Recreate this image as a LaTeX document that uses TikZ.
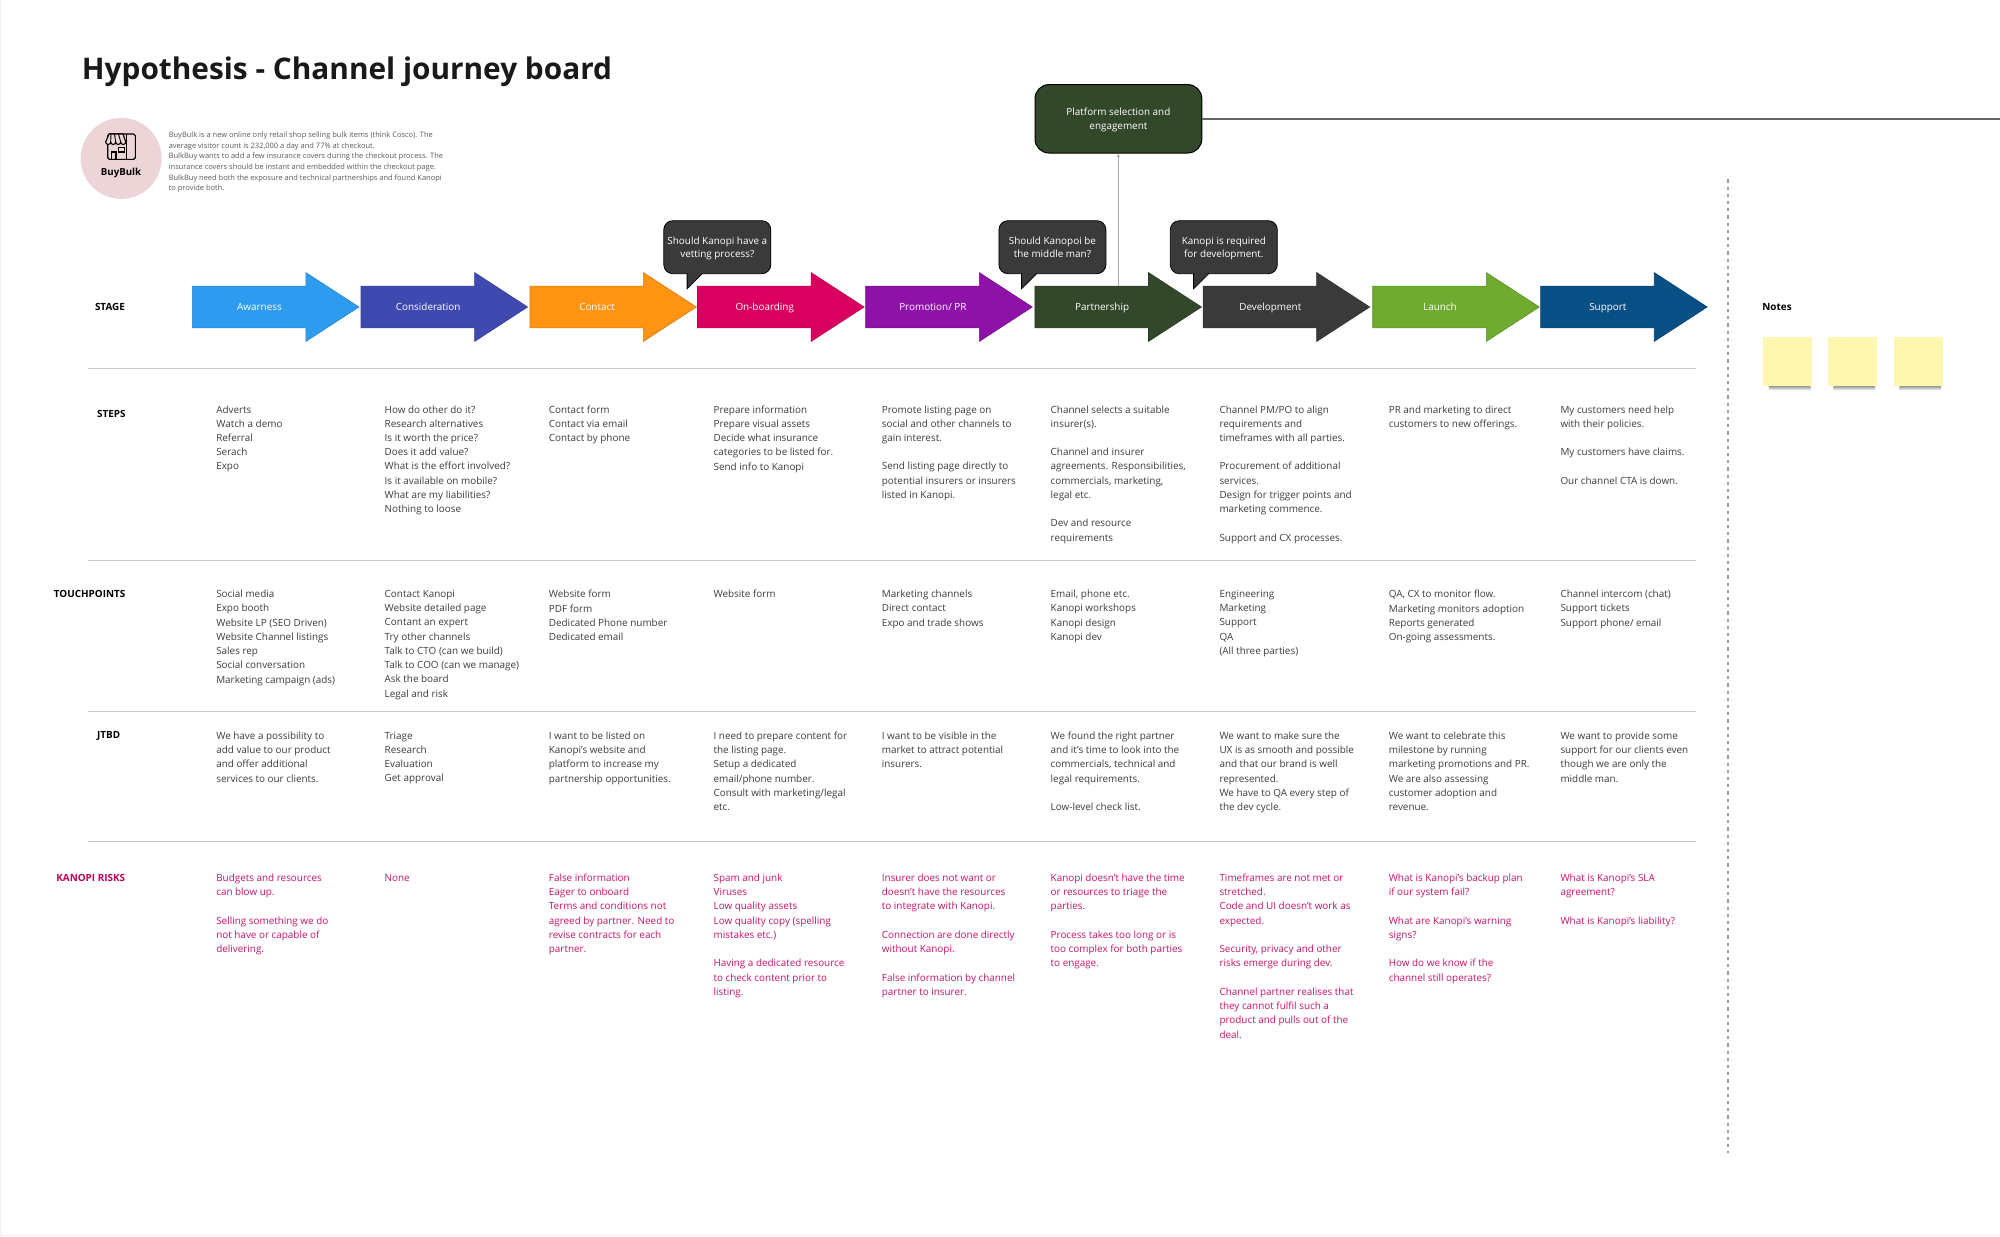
\documentclass[tikz,border=0pt]{standalone}
\usepackage{fontspec}
\setmainfont{Open Sans}
\usetikzlibrary{arrows.meta,calc,positioning,shapes.arrows}
\definecolor{awarness}{HTML}{2D9CF0}
\definecolor{consideration}{HTML}{3F4AB0}
\definecolor{contact}{HTML}{FF9312}
\definecolor{onboarding}{HTML}{D9005F}
\definecolor{promotion}{HTML}{8E11A8}
\definecolor{partnership}{HTML}{33482A}
\definecolor{development}{HTML}{3A3A3A}
\definecolor{launch}{HTML}{6EAB2F}
\definecolor{support}{HTML}{084F85}
\definecolor{risk}{HTML}{C41468}
\definecolor{risklabel}{HTML}{BF0055}
\definecolor{body}{HTML}{3C3C3C}
\definecolor{stickyfill}{HTML}{FDF7B0}
\definecolor{logofill}{HTML}{EDD5D7}
\tikzset{
  stagearrow/.style={single arrow, anchor=tail, inner xsep=0pt, inner ysep=7.9pt, fill=#1, draw=#1!85!black,
    line width=.3pt, minimum height=83.3pt, minimum width=34.15pt, text height=4.34pt, text depth=.46pt,
    single arrow head extend=6.75pt, single arrow head indent=0pt, single arrow tip angle=66,
    text=white, font=\fontsize{4.95}{7.12}\selectfont},
  rowtext/.style={anchor=north west, inner sep=0pt, align=left, text=body,
    font=\fontsize{4.95}{7.12}\selectfont, execute at begin node=\strut},
  risktext/.style={rowtext, text=risk},
  rowlabel/.style={anchor=west, inner sep=0pt, font=\fontsize{4.95}{7.12}\selectfont\bfseries},
  speech/.style={rectangle, rounded corners=4.5pt, fill=development, draw=black, line width=.4pt,
    minimum width=53.5pt, minimum height=26.5pt, inner sep=0pt, align=center, text=white, text depth=-.8pt,
    font=\fontsize{4.95}{6.9}\selectfont},
  speechtail/.style={fill=development, draw=black, line width=.4pt},
  sticky/.style={rectangle, inner sep=0pt, minimum width=24.3pt, minimum height=24.6pt, fill=stickyfill},
  stickyshadow/.style={top color=black!38, bottom color=white},
  rowline/.style={draw=black!22, line width=.6pt}
}
\begin{document}
\begin{tikzpicture}[x=0.5pt,y=-0.5pt]
\useasboundingbox (0,0) rectangle (2000,1236);
\draw[black!6, line width=.5pt] (0.5,0) -- (0.5,1235.5) -- (2000,1235.5);
%
\node[anchor=west, inner sep=0pt, font=\fontsize{14.9}{18}\selectfont\bfseries, text=black!90] (title) at (81.5,71.5) {Hypothesis - Channel journey board};
%
\node[circle, inner sep=0pt, minimum size=40.5pt, fill=logofill] (logo) at (121.2,158.4) {};
\node[inner sep=0pt, font=\fontsize{4.85}{7}\selectfont\bfseries] (logoname) at (121,173) {BuyBulk};
\draw[black, line width=.55pt, rounded corners=.8pt] (107.7,134) rectangle (135.3,159.3);
\draw[black, line width=.55pt] (126.7,134) -- (126.7,159.3);
\draw[black, line width=.55pt, fill=logofill] (109,134) -- (105.7,142) arc[start angle=180,end angle=360,x radius=2.5,y radius=-2.5] arc[start angle=180,end angle=360,x radius=2.5,y radius=-2.5] arc[start angle=180,end angle=360,x radius=2.5,y radius=-2.5] arc[start angle=180,end angle=360,x radius=2.5,y radius=-2.5] -- (123,134) -- cycle;
\draw[black, line width=.45pt] (111,134) -- (110.7,142) (114.5,134) -- (115.7,142) (118.5,134) -- (120.7,142);
\draw[black, line width=.55pt] (111.3,159.3) -- (111.3,152) -- (116,152) -- (116,159.3);
\draw[black, line width=.55pt] (118.7,147.3) rectangle (124.7,152);
\node[anchor=north west, inner sep=0pt, align=left, text=black!65, font=\fontsize{3.74}{5.33}\selectfont, execute at begin node=\strut] (intro) at (168.4,131.5) {BuyBulk is a new online only retail shop selling bulk items (think Cosco). The\\
average visitor count is 232,000 a day and 77\% at checkout.\\
BulkBuy wants to add a few insurance covers during the checkout process. The\\
insurance covers should be instant and embedded within the checkout page.\\
BulkBuy need both the exposure and technical partnerships and found Kanopi\\
to provide both.};
%
\node[rowlabel] (stage) at (94.6,307) {STAGE};
\node[stagearrow=awarness] (aw) at (192,307) {Awarness};
\node[stagearrow=consideration] (co) at (360.7,307) {Consideration};
\node[stagearrow=contact] (ct) at (529.5,307) {Contact};
\node[stagearrow=onboarding] (ob) at (697.2,307) {On-boarding};
\node[stagearrow=promotion] (pr) at (865.4,307) {Promotion/ PR};
\node[stagearrow=partnership] (pa) at (1034.6,307) {Partnership};
\node[stagearrow=development] (de) at (1202.8,307) {Development};
\node[stagearrow=launch] (la) at (1372.4,307) {Launch};
\node[stagearrow=support] (su) at (1540.3,307) {Support};
%
\node[speech] (vetting) at (717.3,247.2) {Should Kanopi have a\\vetting process?};
\node[speech] (middle) at (1052.4,247.2) {Should Kanopoi be\\the middle man?};
\node[speech] (required) at (1223.8,247.2) {Kanopi is required\\for development.};
\draw[speechtail] ($(vetting.south west)+(23.7,-0.8)$) -- ++(0,15.4) -- ++(15.5,-15.4);
\draw[speechtail] ($(middle.south west)+(23,-0.8)$) -- ++(0,15.4) -- ++(15.5,-15.4);
\draw[speechtail] ($(required.south west)+(23.7,-0.8)$) -- ++(0,15.4) -- ++(15.5,-15.4);
%
\node[rectangle, rounded corners=7pt, fill=partnership, draw=black, line width=.5pt, minimum width=83.4pt, minimum height=34.2pt, inner sep=0pt, align=center, text=white, text depth=-.8pt, font=\fontsize{4.95}{7.15}\selectfont] (platform) at (1118.4,118.8) {Platform selection and\\engagement};
\coordinate (lineend) at (2000,119);
\draw[black!60, line width=1pt] (platform.east |- lineend) -- (lineend);
\draw[-{Latex[length=1.8pt,width=1.8pt]}, black!32, line width=.3pt] (platform.south |- pa.before head) -- (platform.south);
%
\coordinate (dashtop) at (1728,179.3);
\coordinate (dashend) at (1728,1153);
\draw[black!38, line width=1pt, dash pattern=on 1.6pt off 2pt] (dashtop) -- (dashend);
\node[rowlabel] (notes) at (1762,307) {Notes};
\node[sticky] (noteA) at (1787.6,361.3) {};
\node[sticky] (noteB) at (1852.4,361.3) {};
\node[sticky] (noteC) at (1918.3,361.3) {};
\shade[stickyshadow] ($(noteA.south west)+(6,0)$) rectangle ($(noteA.south east)+(-2,4)$);
\shade[stickyshadow] ($(noteB.south west)+(6,0)$) rectangle ($(noteB.south east)+(-2,4)$);
\shade[stickyshadow] ($(noteC.south west)+(6,0)$) rectangle ($(noteC.south east)+(-2,4)$);
%
\coordinate (lineAa) at (88,368.7);  \coordinate (lineAb) at (1696,368.7);
\coordinate (lineBa) at (88,560.3);  \coordinate (lineBb) at (1696,560.3);
\coordinate (lineCa) at (88,711.3);  \coordinate (lineCb) at (1696,711.3);
\coordinate (lineDa) at (88,841.3);  \coordinate (lineDb) at (1696,841.3);
\draw[rowline] (lineAa) -- (lineAb);
\draw[rowline] (lineBa) -- (lineBb);
\draw[rowline] (lineCa) -- (lineCb);
\draw[rowline] (lineDa) -- (lineDb);
%
\node[rowlabel] (steps) at (96.8,414) {STEPS};
\node[rowtext] (stA) at (215.9,405.1) {Adverts\\Watch a demo\\Referral\\Serach\\Expo};
\node[rowtext] (stB) at (384.3,405.1) {How do other do it?\\Research alternatives\\Is it worth the price?\\Does it add value?\\What is the effort involved?\\Is it available on mobile?\\What are my liabilities?\\Nothing to loose};
\node[rowtext] (stC) at (548.5,405.1) {Contact form\\Contact via email\\Contact by phone};
\node[rowtext] (stD) at (713.2,405.1) {Prepare information\\Prepare visual assets\\Decide what insurance\\categories to be listed for.\\Send info to Kanopi};
\node[rowtext] (stE) at (881.5,405.1) {Promote listing page on\\social and other channels to\\gain interest.\\[7.12pt]Send listing page directly to\\potential insurers or insurers\\listed in Kanopi.};
\node[rowtext] (stF) at (1050.3,405.1) {Channel selects a suitable\\insurer(s).\\[7.12pt]Channel and insurer\\agreements. Responsibilities,\\commercials, marketing,\\legal etc.\\[7.12pt]Dev and resource\\requirements};
\node[rowtext] (stG) at (1219.1,405.1) {Channel PM/PO to align\\requirements and\\timeframes with all parties.\\[7.12pt]Procurement of additional\\services.\\Design for trigger points and\\marketing commence.\\[7.12pt]Support and CX processes.};
\node[rowtext] (stH) at (1388.4,405.1) {PR and marketing to direct\\customers to new offerings.};
\node[rowtext] (stI) at (1560.1,405.1) {My customers need help\\with their policies.\\[7.12pt]My customers have claims.\\[7.12pt]Our channel CTA is down.};
%
\node[rowlabel] (touch) at (53.5,594) {TOUCHPOINTS};
\node[rowtext] (tpA) at (215.9,589.8) {Social media\\Expo booth\\Website LP (SEO Driven)\\Website Channel listings\\Sales rep\\Social conversation\\Marketing campaign (ads)};
\node[rowtext] (tpB) at (384.3,589.8) {Contact Kanopi\\Website detailed page\\Contant an expert\\Try other channels\\Talk to CTO (can we build)\\Talk to COO (can we manage)\\Ask the board\\Legal and risk};
\node[rowtext] (tpC) at (548.5,589.8) {Website form\\PDF form\\Dedicated Phone number\\Dedicated email};
\node[rowtext] (tpD) at (713.2,587.6) {Website form};
\node[rowtext] (tpE) at (881.5,589.8) {Marketing channels\\Direct contact\\Expo and trade shows};
\node[rowtext] (tpF) at (1050.3,589.8) {Email, phone etc.\\Kanopi workshops\\Kanopi design\\Kanopi dev};
\node[rowtext] (tpG) at (1219.1,589.8) {Engineering\\Marketing\\Support\\QA\\(All three parties)};
\node[rowtext] (tpH) at (1388.4,589.8) {QA, CX to monitor flow.\\Marketing monitors adoption\\Reports generated\\On-going assessments.};
\node[rowtext] (tpI) at (1560.1,589.8) {Channel intercom (chat)\\Support tickets\\Support phone/ email};
%
\node[rowlabel] (jtbd) at (96.8,735.7) {JTBD};
\node[rowtext] (jtA) at (215.9,731.5) {We have a possibility to\\add value to our product\\and offer additional\\services to our clients.};
\node[rowtext] (jtB) at (384.3,731.5) {Triage\\Research\\Evaluation\\Get approval};
\node[rowtext] (jtC) at (548.5,731.5) {I want to be listed on\\Kanopi's website and\\platform to increase my\\partnership opportunities.};
\node[rowtext] (jtD) at (713.2,731.5) {I need to prepare content for\\the listing page.\\Setup a dedicated\\email/phone number.\\Consult with marketing/legal\\etc.};
\node[rowtext] (jtE) at (881.5,731.5) {I want to be visible in the\\market to attract potential\\insurers.};
\node[rowtext] (jtF) at (1050.3,731.5) {We found the right partner\\and it's time to look into the\\commercials, technical and\\legal requirements.\\[7.12pt]Low-level check list.};
\node[rowtext] (jtG) at (1219.1,731.5) {We want to make sure the\\UX is as smooth and possible\\and that our brand is well\\represented.\\We have to QA every step of\\the dev cycle.};
\node[rowtext] (jtH) at (1388.4,731.5) {We want to celebrate this\\milestone by running\\marketing promotions and PR.\\We are also assessing\\customer adoption and\\revenue.};
\node[rowtext] (jtI) at (1560.1,731.5) {We want to provide some\\support for our clients even\\though we are only the\\middle man.};
%
\node[rowlabel, text=risklabel] (risks) at (56,877.7) {KANOPI RISKS};
\node[risktext] (rkA) at (215.9,873.5) {Budgets and resources\\can blow up.\\[7.12pt]Selling something we do\\not have or capable of\\delivering.};
\node[risktext] (rkB) at (384.3,870.9) {None};
\node[risktext] (rkC) at (548.5,873.5) {False information\\Eager to onboard\\Terms and conditions not\\agreed by partner. Need to\\revise contracts for each\\partner.};
\node[risktext] (rkD) at (713.2,873.5) {Spam and junk\\Viruses\\Low quality assets\\Low quality copy (spelling\\mistakes etc.)\\[7.12pt]Having a dedicated resource\\to check content prior to\\listing.};
\node[risktext] (rkE) at (881.5,873.5) {Insurer does not want or\\doesn't have the resources\\to integrate with Kanopi.\\[7.12pt]Connection are done directly\\without Kanopi.\\[7.12pt]False information by channel\\partner to insurer.};
\node[risktext] (rkF) at (1050.3,873.5) {Kanopi doesn't have the time\\or resources to triage the\\parties.\\[7.12pt]Process takes too long or is\\too complex for both parties\\to engage.};
\node[risktext] (rkG) at (1219.1,873.5) {Timeframes are not met or\\stretched.\\Code and UI doesn't work as\\expected.\\[7.12pt]Security, privacy and other\\risks emerge during dev.\\[7.12pt]Channel partner realises that\\they cannot fulfil such a\\product and pulls out of the\\deal.};
\node[risktext] (rkH) at (1388.4,873.5) {What is Kanopi's backup plan\\if our system fail?\\[7.12pt]What are Kanopi's warning\\signs?\\[7.12pt]How do we know if the\\channel still operates?};
\node[risktext] (rkI) at (1560.1,873.5) {What is Kanopi's SLA\\agreement?\\[7.12pt]What is Kanopi's liability?};
%
\end{tikzpicture}
\end{document}
